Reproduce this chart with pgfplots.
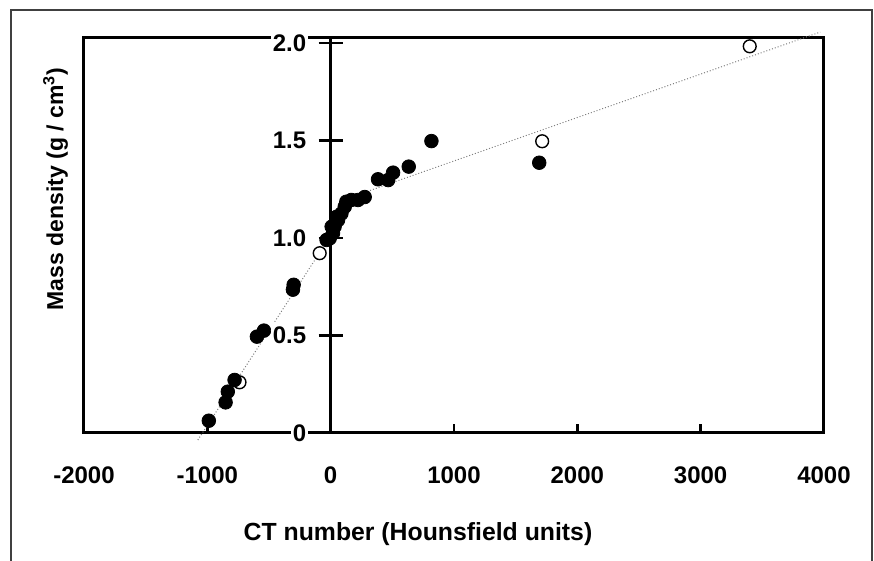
\documentclass[border=0pt]{standalone}
\usepackage{fontspec}
\setmainfont{Liberation Sans}
\usepackage{pgfplots}
\pgfplotsset{compat=1.18}

% 1 px of the reference = 0.5pt here
\pgfplotsset{
  ctbase/.style={
    scale only axis,
    width=370pt, height=197.5pt,
    at={(42pt,64pt)}, anchor=south west,
    xmin=-2000, xmax=4000,
    ymin=0, ymax=2.0256,
    clip=false,
    /pgf/number format/assume math mode=true,
    ticklabel style={font=\fontsize{12}{14}\selectfont\bfseries},
  },
}

\begin{document}
\begin{tikzpicture}
\path[use as bounding box] (0,0) rectangle (437pt,280.5pt);
\draw[line width=0.7pt, black!75] (5.5pt,-2pt) -- (5.5pt,275.5pt) -- (436pt,275.5pt) -- (436pt,-2pt);

% boxed axis with the data
\begin{axis}[ctbase,
  axis line style={line width=1.5pt},
  xtick={-2000,-1000,0,1000,2000,3000,4000},
  xticklabels={-2000,-1000,0,1000,2000,3000,4000},
  xtick pos=bottom, xtick align=inside,
  xtick style={line width=1.2pt, black},
  major tick length=4.5pt,
  xticklabel style={anchor=base, yshift=-25.5pt},
  ytick=\empty,
]
% fitted calibration lines
\addplot[gray, densely dotted, line width=0.5pt] coordinates {
  (-1077,-0.036) (214,1.22) (3969,2.056)
};
% open circles
\addplot[only marks, mark=*, mark size=3.2pt,
  mark options={fill=white, draw=black, line width=0.7pt}] coordinates {
  (-739,0.26) (-89,0.922) (1715,1.496) (3398,1.983)
};
% filled circles
\addplot[only marks, mark=*, mark size=3.4pt, black] coordinates {
  (-988,0.063) (-852,0.157) (-834,0.212) (-779,0.272)
  (-598,0.494) (-541,0.525) (-306,0.735) (-300,0.76)
  (-33,0.99) (-8,0.998) (8,1.058) (19,1.024) (32,1.058)
  (49,1.109) (60,1.092) (87,1.125) (114,1.16) (127,1.186)
  (168,1.195) (222,1.195) (276,1.21) (384,1.301) (466,1.297)
  (506,1.335) (633,1.366) (817,1.497) (1691,1.386)
};
\end{axis}

% y axis through x = 0
\begin{axis}[ctbase,
  axis x line=none,
  axis y line=center,
  axis line style={line width=1.5pt, -},
  ytick={0,0.5,1,1.5,2},
  yticklabels={0,0.5,1.0,1.5,2.0},
  ytick align=center,
  major tick length=12pt,
  ytick style={line width=1.2pt, black},
  yticklabel style={fill=white, inner xsep=1pt, inner ysep=2.5pt, anchor=east, xshift=-5pt},
]
\end{axis}

\node[anchor=base, font=\fontsize{12.4}{14}\selectfont\bfseries] at (209pt,10.2pt)
  {CT number (Hounsfield units)};
\node[anchor=base, rotate=90, font=\fontsize{11.5}{14}\selectfont\bfseries] at (31.5pt,186pt)
  {Mass density (g / cm\textsuperscript{3})};
\end{tikzpicture}
\end{document}
